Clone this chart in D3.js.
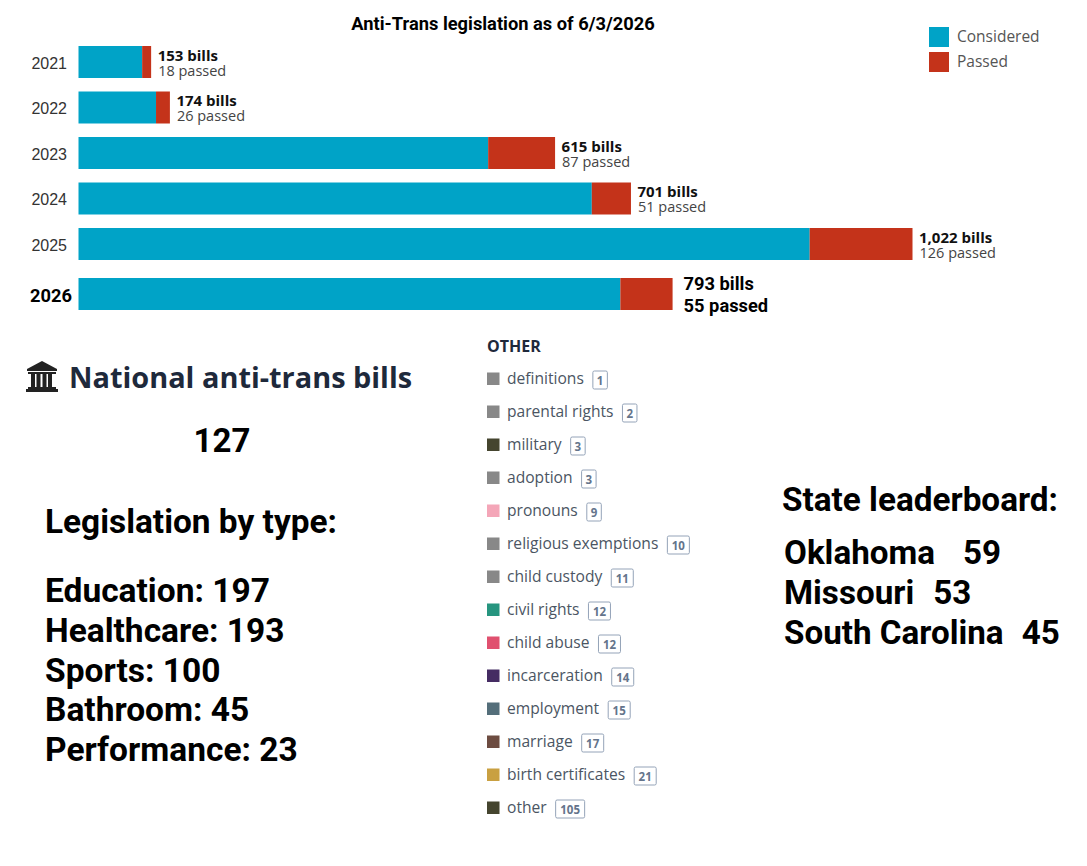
<!DOCTYPE html>
<html>
<head>
<meta charset="utf-8">
<script src="https://d3js.org/d3.v7.min.js"></script>
<style>
body { margin: 0; background: #fff; }
svg { display: block; }
.big { font-family: Roboto, sans-serif; font-weight: 700; fill: #000; }
.os { font-family: "Open Sans", sans-serif; }
</style>
</head>
<body>
<div id="chart"></div>
<script>
var years = ["2021", "2022", "2023", "2024", "2025", "2026"];
// bar lengths, they do not follow the printed totals
var barConsidered = [78, 95, 502, 629, 896, 664];
var barPassed = [11, 17, 82, 48, 126, 64];
var billLabels = ["153 bills", "174 bills", "615 bills", "701 bills", "1,022 bills", "793 bills"];
var passedLabels = ["18 passed", "26 passed", "87 passed", "51 passed", "126 passed", "55 passed"];

var legendNames = ["Considered", "Passed"];
var legendColors = ["#00a3c7", "#c4331a"];

var otherNames = ["definitions", "parental rights", "military", "adoption", "pronouns", "religious exemptions", "child custody", "civil rights", "child abuse", "incarceration", "employment", "marriage", "birth certificates", "other"];
var otherCounts = [1, 2, 3, 3, 9, 10, 11, 12, 12, 14, 15, 17, 21, 105];
var otherColors = ["#888888", "#888888", "#45452f", "#888888", "#f4a6b8", "#888888", "#888888", "#26957f", "#e0506f", "#452c63", "#546e7a", "#6d4c41", "#c9a041", "#45452f"];

var typeLines = ["Education: 197", "Healthcare: 193", "Sports: 100", "Bathroom: 45", "Performance: 23"];
var stateNames = ["Oklahoma", "Missouri", "South Carolina"];
var stateCounts = [59, 53, 45];
var stateGaps = [28, 19, 18];

var svgWidth = 1087;
var svgHeight = 866;

var svg = d3.select("#chart").append("svg")
    .attr("width", svgWidth)
    .attr("height", svgHeight);

svg.append("rect").attr("width", svgWidth).attr("height", svgHeight).attr("fill", "#fff");

svg.append("text")
    .attr("class", "big")
    .attr("x", 503)
    .attr("y", 30)
    .attr("text-anchor", "middle")
    .style("font-size", "18.3px")
    .text("Anti-Trans legislation as of 6/3/2026");

// bars
var xScale = d3.scaleLinear().domain([0, 1022]).range([78.5, 912.5]);
var yScale = d3.scaleBand().domain(years).range([46, 305.5]).paddingInner(0.2967).paddingOuter(0);
var barHeight = yScale.bandwidth();

// the current year sits a little lower than the rest
function rowY(year) {
    return yScale(year) + (year === "2026" ? 4.5 : 0);
}

var rows = years.map(function (year, i) {
    return { year: year, considered: barConsidered[i], passed: barPassed[i], bills: billLabels[i], passedText: passedLabels[i] };
});

var chart = svg.append("g");

chart.selectAll(".considered")
    .data(rows)
    .enter()
    .append("rect")
    .attr("class", "considered")
    .attr("x", xScale(0))
    .attr("y", function (d) { return rowY(d.year); })
    .attr("width", function (d) { return xScale(d.considered) - xScale(0); })
    .attr("height", barHeight)
    .attr("fill", legendColors[0]);

chart.selectAll(".passed")
    .data(rows)
    .enter()
    .append("rect")
    .attr("class", "passed")
    .attr("x", function (d) { return xScale(d.considered); })
    .attr("y", function (d) { return rowY(d.year); })
    .attr("width", function (d) { return xScale(d.passed) - xScale(0); })
    .attr("height", barHeight)
    .attr("fill", legendColors[1]);

// year labels
var yAxis = d3.axisLeft(yScale).tickSize(0).tickPadding(11);
var axisG = chart.append("g")
    .attr("transform", "translate(78,0)")
    .call(yAxis);
axisG.select(".domain").remove();
axisG.selectAll(".tick")
    .attr("transform", function (d) { return "translate(0," + (rowY(d) + barHeight / 2 + 1.5) + ")"; });
axisG.selectAll("text")
    .attr("fill", "#333")
    .style("font-family", "'Liberation Sans', sans-serif")
    .style("font-size", "16px");
axisG.selectAll(".tick").filter(function (d) { return d === "2026"; }).select("text")
    .attr("x", -6)
    .attr("y", 1)
    .attr("fill", "#000")
    .style("font-family", "Roboto, sans-serif")
    .style("font-weight", 700)
    .style("font-size", "18.3px");

// value labels
var older = rows.filter(function (d) { return d.year !== "2026"; });
var latest = rows.filter(function (d) { return d.year === "2026"; });

chart.selectAll(".bills")
    .data(older)
    .enter()
    .append("text")
    .attr("class", "bills os")
    .attr("x", function (d) { return xScale(d.considered + d.passed) + 6.5; })
    .attr("y", function (d) { return rowY(d.year) + 15; })
    .attr("fill", "#111")
    .style("font-size", "15px")
    .style("font-weight", 700)
    .text(function (d) { return d.bills; });

chart.selectAll(".passedText")
    .data(older)
    .enter()
    .append("text")
    .attr("class", "passedText os")
    .attr("x", function (d) { return xScale(d.considered + d.passed) + 7; })
    .attr("y", function (d) { return rowY(d.year) + 30; })
    .attr("fill", "#444")
    .style("font-size", "14.5px")
    .text(function (d) { return d.passedText; });

latest.forEach(function (d) {
    [d.bills, d.passedText].forEach(function (label, i) {
        chart.append("text")
            .attr("class", "big")
            .attr("x", xScale(d.considered + d.passed) + 11)
            .attr("y", rowY(d.year) + 12 + i * 22.5)
            .style("font-size", "18.3px")
            .text(label);
    });
});

// legend
var legend = svg.append("g").selectAll("g")
    .data(legendNames)
    .enter()
    .append("g")
    .attr("transform", function (d, i) { return "translate(929," + (27 + i * 25) + ")"; });
legend.append("rect")
    .attr("width", 20)
    .attr("height", 20)
    .attr("fill", function (d, i) { return legendColors[i]; });
legend.append("text")
    .attr("class", "os")
    .attr("x", 28)
    .attr("y", 15)
    .attr("fill", "#555")
    .style("font-size", "15.5px")
    .text(function (d) { return d; });

// national block, building icon first
var icon = svg.append("g").attr("transform", "translate(26,361)").attr("fill", "#222");
icon.append("path").attr("d", "M16 0 L31 8 L31 10 L1 10 L1 8 Z");
icon.append("rect").attr("x", 2).attr("y", 11).attr("width", 28).attr("height", 2);
[5, 10.5, 16.5, 22].forEach(function (px) {
    icon.append("rect").attr("x", px).attr("y", 13).attr("width", 4).attr("height", 13);
});
icon.append("rect").attr("x", 2).attr("y", 26).attr("width", 28).attr("height", 2);
icon.append("rect").attr("x", 0).attr("y", 28).attr("width", 32).attr("height", 3);

svg.append("text")
    .attr("class", "os")
    .attr("x", 69)
    .attr("y", 388)
    .attr("fill", "#1e293b")
    .style("font-size", "28.9px")
    .style("font-weight", 700)
    .text("National anti-trans bills");

svg.append("text")
    .attr("class", "big")
    .attr("x", 222)
    .attr("y", 452)
    .attr("text-anchor", "middle")
    .style("font-size", "33px")
    .text("127");

svg.append("text")
    .attr("class", "big")
    .attr("x", 45)
    .attr("y", 533)
    .style("font-size", "33.4px")
    .text("Legislation by type:");

svg.append("g").selectAll("text")
    .data(typeLines)
    .enter()
    .append("text")
    .attr("class", "big")
    .attr("x", 45)
    .attr("y", function (d, i) { return 602 + i * 39.75; })
    .style("font-size", "33.5px")
    .text(function (d) { return d; });

// state leaderboard
svg.append("text")
    .attr("class", "big")
    .attr("x", 782)
    .attr("y", 511)
    .style("font-size", "33.3px")
    .text("State leaderboard:");

var states = svg.append("g").selectAll("text")
    .data(stateNames)
    .enter()
    .append("text")
    .attr("class", "big")
    .attr("x", 784)
    .attr("y", function (d, i) { return 564 + i * 40; })
    .style("font-size", "33.2px");
states.append("tspan").text(function (d) { return d; });
states.append("tspan")
    .attr("dx", function (d, i) { return stateGaps[i]; })
    .text(function (d, i) { return stateCounts[i]; });

// other list
svg.append("text")
    .attr("class", "os")
    .attr("x", 487)
    .attr("y", 352)
    .attr("fill", "#1e293b")
    .style("font-size", "16px")
    .style("font-weight", 700)
    .text("OTHER");

var listScale = d3.scalePoint().domain(otherNames).range([378.5, 807.5]);

var item = svg.append("g").selectAll("g")
    .data(otherNames)
    .enter()
    .append("g")
    .attr("transform", function (d) { return "translate(487," + listScale(d) + ")"; });

item.append("rect")
    .attr("y", -6)
    .attr("width", 12.5)
    .attr("height", 12.5)
    .attr("fill", function (d, i) { return otherColors[i]; });

item.append("text")
    .attr("class", "os name")
    .attr("x", 20)
    .attr("y", 5)
    .attr("fill", "#4b5563")
    .style("font-size", "15.6px")
    .text(function (d) { return d; });

item.each(function (d, i) {
    var g = d3.select(this);
    var textEnd = 20 + g.select(".name").node().getComputedTextLength();
    var label = String(otherCounts[i]);
    var boxW = label.length === 1 ? 14.5 : label.length === 2 ? 22 : 29;
    g.append("rect")
        .attr("x", textEnd + 9)
        .attr("y", -7.5)
        .attr("width", boxW)
        .attr("height", 18)
        .attr("rx", 1.5)
        .attr("fill", "#fff")
        .attr("stroke", "#94a3b8")
        .attr("stroke-width", 1);
    g.append("text")
        .attr("class", "os")
        .attr("x", textEnd + 9 + boxW / 2)
        .attr("y", 6)
        .attr("text-anchor", "middle")
        .attr("fill", "#64748b")
        .style("font-size", "11.5px")
        .style("font-weight", 700)
        .text(label);
});
</script>
</body>
</html>
